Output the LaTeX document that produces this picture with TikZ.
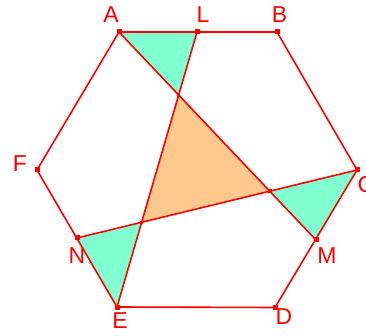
\documentclass[tikz,border=0pt]{standalone}
\usepackage{fontspec}
\setmainfont{Liberation Sans}
\usetikzlibrary{intersections}
\definecolor{ggred}{RGB}{255,0,0}
\definecolor{aqua}{RGB}{128,255,208}
\definecolor{orng}{RGB}{255,200,140}
\tikzset{
  edge/.style={draw=ggred, line width=1.6pt},
  pt/.style={fill=ggred, minimum size=5pt, inner sep=0pt, rectangle},
  lab/.style={text=ggred, inner sep=0pt, font=\fontsize{23}{23}\selectfont},
}
\begin{document}
\begin{tikzpicture}[x=1pt,y=-1pt]
\useasboundingbox (0,0) rectangle (366,336);
\coordinate (A) at (119,32);
\coordinate (L) at (197,32);
\coordinate (B) at (277,32);
\coordinate (C) at (357,170);
\coordinate (M) at (316,240);
\coordinate (D) at (275,307.5);
\coordinate (E) at (117,307);
\coordinate (N) at (77,238);
\coordinate (F) at (37,170);
\path[name path=am] (A) -- (M);
\path[name path=le] (L) -- (E);
\path[name path=cn] (C) -- (N);
\path[name intersections={of=am and le, by=P}];
\path[name intersections={of=am and cn, by=Q}];
\path[name intersections={of=le and cn, by=R}];
% fills
\fill[aqua] (A) -- (L) -- (P) -- cycle;
\fill[aqua] (C) -- (M) -- (Q) -- cycle;
\fill[aqua] (E) -- (N) -- (R) -- cycle;
\fill[orng] (P) -- (Q) -- (R) -- cycle;
% hexagon and lines
\draw[edge, line join=round] (A) -- (B) -- (C) -- (D) -- (E) -- (F) -- cycle;
\draw[edge] (A) -- (M);
\draw[edge] (L) -- (E);
\draw[edge] (C) -- (N);
% points
\foreach \p in {A,L,B,C,M,D,E,N,F} \node[pt] (d\p) at (\p) {};
\foreach \p in {P,Q,R} \node[pt, minimum size=3.5pt] (d\p) at (\p) {};
% labels
\node[lab] (lA) at (111,14.5) {A};
\node[lab] (lL) at (203,14.5) {L};
\node[lab] (lB) at (279.5,14.5) {B};
\node[lab] (lC) at (366,185) {C};
\node[lab] (lM) at (327,256) {M};
\node[lab] (lD) at (284,317) {D};
\node[lab] (lE) at (120,321) {E};
\node[lab] (lN) at (77,256) {N};
\node[lab] (lF) at (20,164) {F};
\end{tikzpicture}
\end{document}
